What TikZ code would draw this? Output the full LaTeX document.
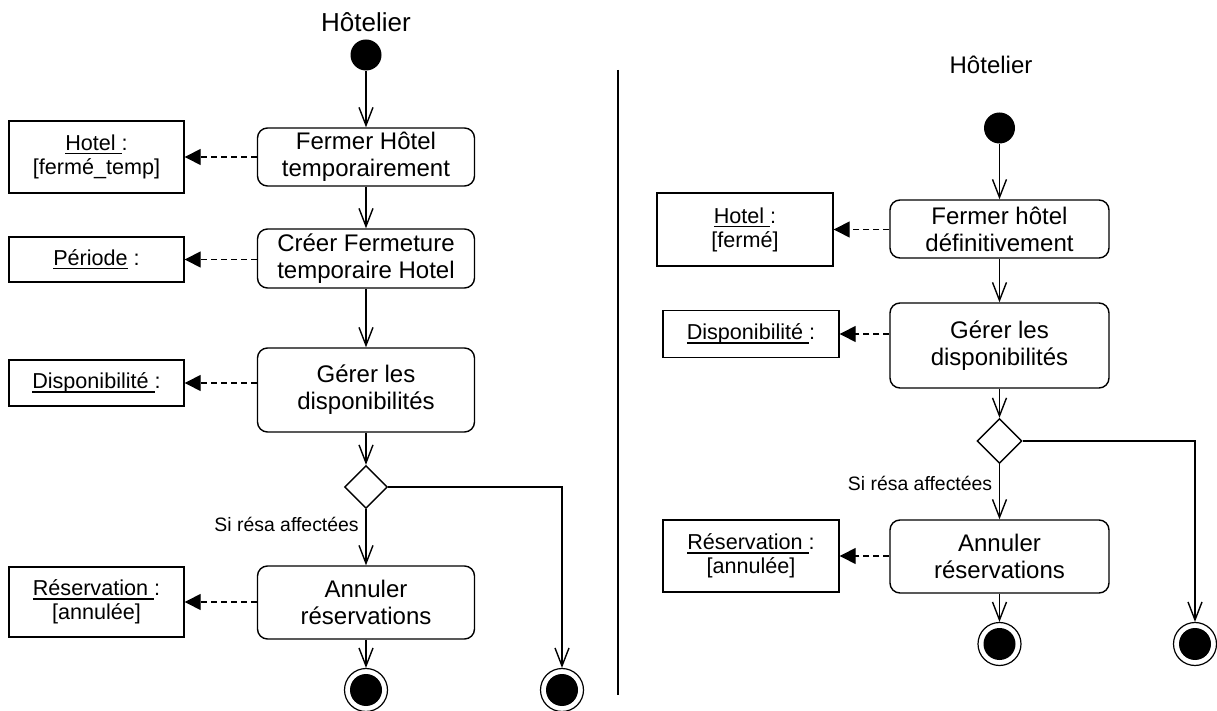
\documentclass[tikz,border=0pt]{standalone}
\usepackage{fontspec}
\setmainfont{Liberation Sans}
\usetikzlibrary{arrows.meta, shapes.geometric}

\newcommand{\actfont}{\fontsize{12}{13.5}\selectfont}
\newcommand{\objfont}{\fontsize{10.8}{12}\selectfont}
\newcommand{\condfont}{\fontsize{9.7}{11}\selectfont}
\newcommand{\objname}[1]{\setbox0\hbox{#1}\rlap{\vrule height -1.3pt depth 1.9pt width \wd0}\box0\relax}

\begin{document}
\begin{tikzpicture}[x=0.5pt, y=-0.5pt,
    activity/.style={draw, line width=0.7pt, rounded corners=5pt, align=center,
        inner sep=0pt, font=\actfont},
    object/.style={draw, line width=0.7pt, align=center, inner sep=0pt, font=\objfont},
    initial/.style={circle, fill=black, inner sep=0pt, minimum size=15.5pt},
    final/.style={circle, draw, line width=0.6pt, inner sep=0pt, minimum size=21.5pt,
        path picture={\fill (path picture bounding box.center) circle (8pt);}},
    decision/.style={diamond, draw, line width=0.7pt, inner sep=0pt},
    flow/.style={line width=0.7pt, -{Straight Barb[length=9pt, width=7pt]}},
    dep/.style={line width=0.7pt, dash pattern=on 3pt off 2pt,
        -{Triangle[length=8pt, width=8pt]}}]

    \def\actw{108.5pt}
    \def\objw{87.5pt}

    \useasboundingbox (0,0) rectangle (1217,711);

    % --- Temporary closing ---
    \node[font=\fontsize{13}{15}\selectfont] (actL) at (366,22) {Hôtelier};
    \node[initial] (initL) at (366,55) {};

    \node[activity, minimum width=\actw, minimum height=29pt] (closeT) at (366,157)
        {Fermer Hôtel\\temporairement};
    \node[activity, minimum width=\actw, minimum height=29.5pt] (period) at (366,258.5)
        {Créer Fermeture\\temporaire Hotel};
    \node[activity, minimum width=\actw, minimum height=42pt] (availL) at (366,390)
        {Gérer les\\disponibilités};
    \node[decision, minimum size=21.5pt] (decL) at (366,487) {};
    \node[activity, minimum width=\actw, minimum height=36.5pt] (cancelL) at (366,602.5)
        {Annuler\\réservations};
    \node[final] (endLa) at (366,690) {};
    \node[final] (endLb) at (562,690) {};

    % object nodes
    \node[object, minimum width=\objw, minimum height=36pt] (hotelT) at (96.5,157)
        {\objname{Hotel }:\\{}[fermé\_temp]};
    \node[object, minimum width=\objw, minimum height=22.5pt] (periodObj) at (96.5,259.5)
        {\objname{Période} :};
    \node[object, minimum width=\objw, minimum height=23pt] (dispoL) at (96.5,383)
        {\objname{Disponibilité }:};
    \node[object, minimum width=\objw, minimum height=35pt] (resaL) at (96.5,602)
        {\objname{Réservation }:\\{}[annulée]};

    % control flow
    \draw[flow] (initL) -- (closeT);
    \draw[flow] (closeT) -- (period);
    \draw[flow] (period) -- (availL);
    \draw[flow] (availL) -- (decL);
    \draw[flow] (decL) -- (cancelL)
        node[pos=0.28, left, font=\condfont] {Si résa affectées};
    \draw[flow] (cancelL) -- (endLa);
    \draw[flow] (decL.east) -| (endLb);

    % object flow
    \draw[dep] (closeT.west |- hotelT.east) -- (hotelT.east);
    \draw[dep] (period.west |- periodObj.east) -- (periodObj.east);
    \draw[dep] (availL.west |- dispoL.east) -- (dispoL.east);
    \draw[dep] (cancelL.west |- resaL.east) -- (resaL.east);

    % --- Separator ---
    \coordinate (sepTop) at (618,70);
    \coordinate (sepBot) at (618,695);
    \draw[line width=0.8pt] (sepTop) -- (sepBot);

    % --- Final closing ---
    \node[font=\fontsize{12}{14}\selectfont] (actR) at (991,65) {Hôtelier};
    \node[initial] (initR) at (999.5,128) {};

    \node[activity, minimum width=109.5pt, minimum height=29pt] (closeD) at (999.5,229)
        {Fermer hôtel\\définitivement};
    \node[activity, minimum width=109.5pt, minimum height=42.5pt] (availR) at (999.5,345.5)
        {Gérer les\\disponibilités};
    \node[decision, minimum size=22.5pt] (decR) at (999.5,441) {};
    \node[activity, minimum width=109.5pt, minimum height=36.5pt] (cancelR) at (999.5,556.5)
        {Annuler\\réservations};
    \node[final] (endRa) at (999.5,644) {};
    \node[final] (endRb) at (1195,644) {};

    % object nodes
    \node[object, minimum width=88pt, minimum height=36.5pt] (hotelD) at (745,229.5)
        {\objname{Hotel }:\\{}[fermé]};
    \node[object, minimum width=88pt, minimum height=23.5pt] (dispoR) at (751,334)
        {\objname{Disponibilité }:};
    \node[object, minimum width=88pt, minimum height=36pt] (resaR) at (751,556)
        {\objname{Réservation }:\\{}[annulée]};

    % control flow
    \draw[flow] (initR) -- (closeD);
    \draw[flow] (closeD) -- (availR);
    \draw[flow] (availR) -- (decR);
    \draw[flow] (decR) -- (cancelR)
        node[pos=0.35, left, font=\condfont] {Si résa affectées};
    \draw[flow] (cancelR) -- (endRa);
    \draw[flow] (decR.east) -| (endRb);

    % object flow
    \draw[dep] (closeD.west |- hotelD.east) -- (hotelD.east);
    \draw[dep] (availR.west |- dispoR.east) -- (dispoR.east);
    \draw[dep] (cancelR.west |- resaR.east) -- (resaR.east);

\end{tikzpicture}
\end{document}
